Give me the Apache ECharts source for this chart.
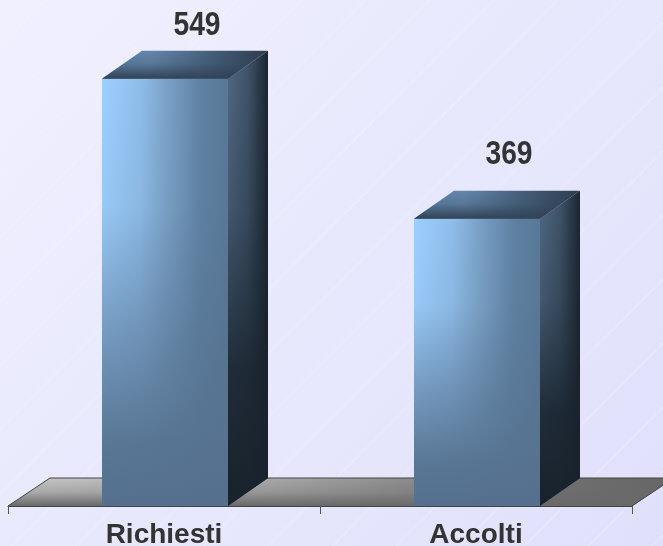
<!DOCTYPE html>
<html><head><meta charset="utf-8">
<style>html,body{margin:0;padding:0;background:#e8e8fd}#c{width:663px;height:546px}</style>
<script src="https://cdn.jsdelivr.net/npm/echarts@6/dist/echarts.min.js"></script>
</head><body><div id="c"></div>
<script>
const categories = ['Richiesti', 'Accolti'];
const values = [549, 369];

const DX = 40, DY = -28, BAR_W = 126, BAR_SHIFT = 1;
const lin = (horizontal, stops) => ({
  type: 'linear', x: 0, y: 0, x2: horizontal ? 1 : 0, y2: horizontal ? 0 : 1,
  colorStops: stops.map(s => ({ offset: s[0], color: s[1] }))
});
const poly = (pts, fill) => ({ type: 'polygon', shape: { points: pts }, style: { fill: fill } });

function renderBar(params, api) {
  const cat = api.value(0);
  const base = api.coord([cat, 0]);
  const top = api.coord([cat, api.value(1)]);
  const cx = base[0] + BAR_SHIFT;
  const x0 = cx - BAR_W / 2, x1 = cx + BAR_W / 2, y0 = top[1], y1 = base[1];
  const front = [[x0, y0], [x1, y0], [x1, y1], [x0, y1]];
  const side = [[x1, y0], [x1 + DX, y0 + DY], [x1 + DX, y1 + DY], [x1, y1]];
  const cap = [[x0, y0], [x0 + DX, y0 + DY], [x1 + DX, y0 + DY], [x1, y0]];
  return {
    type: 'group',
    children: [
      poly(front, lin(true, [[0, '#9dd0ff'], [0.3, '#8fbdea'], [0.5, '#7ba3c9'], [0.78, '#5f82a3'], [1, '#587896']])),
      poly(front, lin(false, [[0, 'rgba(86,114,144,0)'], [0.3, 'rgba(86,114,144,0.08)'], [0.62, 'rgba(86,114,144,0.6)'], [0.85, 'rgba(86,114,144,0.95)'], [1, 'rgba(84,112,142,1)']])),
      poly(side, lin(true, [[0, '#506a85'], [0.5, '#40556b'], [1, '#1a2530']])),
      poly(side, lin(false, [[0, 'rgba(24,34,44,0)'], [0.35, 'rgba(24,34,44,0.25)'], [0.7, 'rgba(24,34,44,0.85)'], [1, 'rgba(24,34,44,1)']])),
      poly(cap, lin(true, [[0, '#5f83a8'], [0.3, '#6486ab'], [0.65, '#46607b'], [1, '#2c3c4d']])),
      poly(cap, lin(false, [[0, 'rgba(48,66,86,0)'], [0.45, 'rgba(48,66,86,0.2)'], [1, 'rgba(48,66,86,1)']])),
      {
        type: 'text', z2: 10,
        x: cx + 32, y: Math.max(26, y0 - 64), scaleX: 0.83,
        style: {
          text: String(api.value(1)), x: 0, y: 0,
          align: 'center', verticalAlign: 'middle', fill: '#333333',
          font: 'bold 34px "Liberation Sans",sans-serif'
        }
      }
    ]
  };
}

function renderFloor(params, api) {
  const band = api.size([1, 0])[0];
  const p = api.coord([0, 0]);
  const xL = p[0] - band / 2, xR = xL + band * categories.length, y = p[1];
  const pts = [[xL, y], [xL + 42, y + DY], [xR + 42, y + DY], [xR, y]];
  return {
    type: 'group',
    children: [
      poly(pts, lin(true, [[0, '#c9c9c9'], [0.4, '#a8a8a8'], [0.8, '#717171'], [1, '#666666']])),
      poly(pts, lin(false, [[0, 'rgba(105,105,105,0)'], [0.5, 'rgba(105,105,105,0.3)'], [1, 'rgba(105,105,105,1)']])),
      { type: 'polyline', shape: { points: [[xL, y], [xL + 42, y + DY], [xR + 42, y + DY], [xR, y]] }, style: { fill: 'none', stroke: '#444444', lineWidth: 1 } }
    ]
  };
}

const backgroundLines = [];
for (let c = -500; c < 1300; c += 64) {
  backgroundLines.push({
    type: 'line', shape: { x1: c, y1: 546, x2: c + 546, y2: 0 },
    style: { stroke: 'rgba(255,255,255,0.28)', lineWidth: 1 }, silent: true
  });
}

const chart = echarts.init(document.getElementById('c'), null, { renderer: 'canvas' });
chart.setOption({
  animation: false,
  backgroundColor: { type: 'linear', x: 0, y: 0, x2: 1, y2: 1, colorStops: [{ offset: 0, color: '#f0f0ff' }, { offset: 1, color: '#e0e0fb' }] },
  graphic: { elements: backgroundLines },
  grid: { left: 8, right: 31, top: 39, bottom: 40, outerBoundsMode: 'none' },
  xAxis: {
    type: 'category', data: categories, z: 10,
    axisLine: { show: true, lineStyle: { color: '#444444', width: 1 } },
    axisTick: { show: true, length: 8, alignWithLabel: false, lineStyle: { color: '#555555', width: 1 } },
    axisLabel: { color: '#333333', fontFamily: '"Liberation Sans",Arial,sans-serif', fontWeight: 'bold', fontSize: 28, margin: 15, interval: 0 }
  },
  yAxis: { type: 'value', min: 0, max: 600, show: false },
  series: [
    { type: 'custom', z: 1, renderItem: renderFloor, data: [[0, 0]], silent: true },
    { type: 'custom', z: 2, renderItem: renderBar, data: values.map((v, i) => [i, v]), encode: { x: 0, y: 1 } }
  ]
});
</script></body></html>
